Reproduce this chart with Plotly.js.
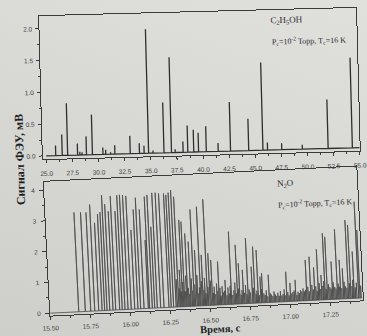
<!DOCTYPE html>
<html>
<head>
<meta charset="utf-8">
<script src="https://cdn.plot.ly/plotly-3.0.1.min.js"></script>
<style>
  html, body { margin:0; padding:0; width:367px; height:336px; overflow:hidden; }
  body { background: linear-gradient(200deg, #e0e0dd 0%, #d8d8d5 45%, #cecfcb 100%); position:relative; }
  .panel { position:absolute; left:0; top:0; width:367px; height:336px; }
  #top { transform: rotate(-1.5deg); transform-origin: 200px 85px; }
  #bottom { transform: rotate(-2.8deg); transform-origin: 205px 245px; }
</style>
</head>
<body>
<div id="top" class="panel"></div>
<div id="bottom" class="panel"></div>
<script>
// ---- Data: C2H5OH (upper panel), time in s, signal in mV ----
const topRange = [25.0, 55.0];
const topTimes = [25.91, 26.53, 27.05, 28.00, 28.22, 28.43, 28.85, 29.42, 30.43, 30.69,
                  31.16, 31.57, 33.04, 33.92, 34.37, 34.80, 35.22, 36.27, 36.99, 37.34,
                  38.10, 38.55, 39.12, 39.58, 40.32, 41.46, 42.64, 44.38, 45.74, 46.18,
                  47.54, 49.51, 51.98, 54.30];
const topSignal = [0.16, 0.33, 0.82, 0.18, 0.05, 0.04, 0.29, 0.63, 0.11, 0.07,
                   0.03, 0.14, 0.28, 0.16, 0.12, 1.95, 0.04, 0.79, 1.50, 0.05,
                   0.17, 0.42, 0.35, 0.30, 0.40, 0.13, 0.77, 0.50, 1.38, 0.12,
                   0.10, 0.07, 0.77, 1.42];
const topTickVals = [25.0, 27.5, 30.0, 32.5, 35.0, 37.5, 40.0, 42.5, 45.0, 47.5, 50.0, 52.5, 55.0];

// ---- Data: N2O (lower panel) ----
const bottomRange = [15.5, 17.45];
const n2oTimes = [15.679, 15.720, 15.754, 15.779, 15.804, 15.825, 15.841, 15.856, 15.873, 15.893,
                  15.910, 15.935, 15.951, 15.968, 15.987, 16.007, 16.029, 16.049, 16.066, 16.087,
                  16.114, 16.122, 16.139, 16.154, 16.170, 16.191, 16.212, 16.243, 16.257, 16.272,
                  16.288, 16.305, 16.330, 16.343, 16.363, 16.382, 16.403, 16.419, 16.444, 16.459,
                  16.486, 16.501, 16.517, 16.559, 16.600, 16.636, 16.674, 16.688, 16.711, 16.740,
                  16.767, 16.782, 16.803, 16.819, 16.830, 16.871, 16.981, 17.037, 17.106, 17.131,
                  17.156, 17.179, 17.200, 17.221, 17.235, 17.267, 17.298, 17.318, 17.335, 17.366,
                  17.381, 17.402, 17.429, 17.437];
const n2oSignal = [3.23, 3.22, 3.21, 3.46, 2.86, 3.14, 3.20, 3.75, 3.45, 3.21,
                   3.70, 3.21, 3.72, 3.73, 3.71, 3.68, 2.57, 3.23, 3.61, 3.22,
                   2.22, 3.63, 3.68, 2.64, 3.74, 3.74, 3.71, 3.70, 3.65, 3.72,
                   3.80, 3.58, 2.82, 2.76, 2.37, 2.10, 3.14, 1.82, 3.22, 1.65,
                   3.45, 1.69, 1.47, 1.41, 0.80, 2.36, 1.92, 1.32, 1.10, 2.12,
                   1.19, 1.84, 1.72, 0.85, 0.96, 0.90, 0.97, 0.69, 1.32, 1.42,
                   1.07, 1.65, 0.81, 2.16, 2.04, 1.23, 2.27, 1.27, 0.99, 2.55,
                   2.39, 1.52, 3.13, 2.21];
// dense low-level lines (estimated)
const n2oSmallTimes = [16.296, 16.312, 16.318, 16.324, 16.336, 16.350, 16.356, 16.370, 16.376, 16.390,
                       16.396, 16.410, 16.426, 16.432, 16.438, 16.452, 16.466, 16.472, 16.478, 16.492,
                       16.508, 16.524, 16.530, 16.538, 16.546, 16.552, 16.566, 16.572, 16.580, 16.588,
                       16.594, 16.608, 16.616, 16.624, 16.630, 16.644, 16.652, 16.660, 16.667, 16.681,
                       16.696, 16.703, 16.718, 16.726, 16.733, 16.748, 16.756, 16.774, 16.790, 16.796,
                       16.810, 16.824, 16.838, 16.846, 16.854, 16.862, 16.878, 16.886, 16.894, 16.902,
                       16.910, 16.918, 16.926, 16.934, 16.942, 16.950, 16.958, 16.966, 16.974, 16.988,
                       16.996, 17.004, 17.012, 17.020, 17.028, 17.044, 17.052, 17.060, 17.068, 17.076,
                       17.084, 17.092, 17.099, 17.114, 17.122, 17.140, 17.148, 17.164, 17.172, 17.186,
                       17.194, 17.208, 17.214, 17.228, 17.244, 17.252, 17.260, 17.274, 17.282, 17.290,
                       17.305, 17.312, 17.326, 17.342, 17.350, 17.358, 17.374, 17.390, 17.396, 17.410,
                       17.418, 17.444];
const n2oSmallSignal = [0.90, 0.60, 1.20, 0.50, 0.80, 0.50, 1.00, 0.60, 0.40, 0.90,
                        0.50, 0.70, 1.00, 0.40, 0.60, 0.80, 0.50, 0.90, 0.40, 0.60,
                        0.80, 0.40, 0.60, 0.35, 0.70, 0.45, 0.55, 0.30, 0.60, 0.40,
                        0.45, 0.30, 0.55, 0.35, 0.60, 0.30, 0.45, 0.70, 0.35, 0.50,
                        0.30, 0.45, 0.35, 0.60, 0.30, 0.45, 0.35, 0.50, 0.30, 0.40,
                        0.25, 0.45, 0.30, 0.25, 0.40, 0.20, 0.30, 0.25, 0.20, 0.35,
                        0.25, 0.20, 0.30, 0.20, 0.35, 0.20, 0.25, 0.40, 0.20, 0.30,
                        0.20, 0.60, 0.25, 0.30, 0.35, 0.20, 0.30, 0.25, 0.35, 0.30,
                        0.40, 0.30, 0.35, 0.45, 0.30, 0.50, 0.35, 0.45, 0.30, 0.55,
                        0.35, 0.45, 0.60, 0.35, 0.50, 0.40, 0.35, 0.55, 0.40, 0.35,
                        0.50, 0.40, 0.35, 0.55, 0.40, 0.35, 0.50, 0.40, 0.60, 0.35,
                        0.50, 0.40];
const bottomTickVals = [15.50, 15.75, 16.00, 16.25, 16.50, 16.75, 17.00, 17.25];

// Build a stick spectrum line: baseline with vertical lines at each peak
function stickSpectrum(range, times, values) {
  const pts = times.map((t, i) => [t, values[i]]).sort((a, b) => a[0] - b[0]);
  const x = [range[0]], y = [0];
  pts.forEach(([t, v]) => { x.push(t, t, t); y.push(0, v, 0); });
  x.push(range[1]); y.push(0);
  return {x, y};
}

const tickFont = {family: 'Liberation Sans Narrow, Liberation Sans, Arial, sans-serif', size: 6.5, color: '#3c3c3c'};
const serif = 'Liberation Serif, DejaVu Serif, Times New Roman, serif';
const axisBase = {
  showline: true, mirror: true, linecolor: '#3a3a3a', linewidth: 1,
  ticks: 'outside', ticklen: 3, tickwidth: 1, tickcolor: '#3a3a3a',
  showgrid: false, zeroline: false, tickfont: tickFont
};
const cfg = {staticPlot: true, displayModeBar: false};
const note = (x, y, text, font, extra) => Object.assign({
  xref: 'paper', yref: 'paper', x: x, y: y, xanchor: 'center', yanchor: 'middle',
  showarrow: false, text: text, font: font
}, extra || {});

// ---- Upper panel ----
const s1 = stickSpectrum(topRange, topTimes, topSignal);
Plotly.newPlot('top', [{
  x: s1.x, y: s1.y, type: 'scatter', mode: 'lines',
  line: {color: '#2e2e2e', width: 1.3}, hoverinfo: 'skip'
}], {
  width: 367, height: 336,
  margin: {l: 41, r: 9, t: 12, b: 181},
  paper_bgcolor: 'rgba(0,0,0,0)', plot_bgcolor: 'rgba(0,0,0,0)',
  showlegend: false,
  xaxis: Object.assign({}, axisBase, {
    range: [24.67, 55.0], tickvals: topTickVals, tickformat: '.1f',
    ticklabelstandoff: 5,
    minor: {ticks: 'outside', ticklen: 2, dtick: 1.25, tick0: 25, tickcolor: '#3a3a3a'}
  }),
  yaxis: Object.assign({}, axisBase, {
    range: [-0.05, 2.2], tick0: 0, dtick: 0.5, tickformat: '.1f',
    ticklabelstandoff: 2,
    minor: {ticks: 'outside', ticklen: 2, dtick: 0.25, tick0: 0, tickcolor: '#3a3a3a'}
  }),
  annotations: [
    note(0.779, 0.924, 'C<sub>2</sub>H<sub>5</sub>OH', {family: serif, size: 9, color: '#2a2a2a'}),
    note(0.849, 0.783, 'P<sub>c</sub>=10<sup>-2</sup> Торр, T<sub>c</sub>=16 K', {family: serif, size: 8, color: '#2a2a2a'}),
    note(-0.072, -0.002, '<b>Сигнал ФЭУ, мВ</b>', {family: serif, size: 12, color: '#1e1e1e'}, {textangle: -90})
  ]
}, cfg);

// ---- Lower panel ----
const s2 = stickSpectrum(bottomRange, n2oTimes.concat(n2oSmallTimes), n2oSignal.concat(n2oSmallSignal));
Plotly.newPlot('bottom', [{
  x: s2.x, y: s2.y, type: 'scatter', mode: 'lines',
  line: {color: '#4c4c4c', width: 0.8}, hoverinfo: 'skip'
}], {
  width: 367, height: 336,
  margin: {l: 47, r: 7, t: 174, b: 28},
  paper_bgcolor: 'rgba(0,0,0,0)', plot_bgcolor: 'rgba(0,0,0,0)',
  showlegend: false,
  xaxis: Object.assign({}, axisBase, {
    range: [15.5, 17.454], tickvals: bottomTickVals, tickformat: '.2f',
    ticklabelstandoff: 3,
    minor: {ticks: 'outside', ticklen: 2, dtick: 0.125, tick0: 15.5, tickcolor: '#3a3a3a'}
  }),
  yaxis: Object.assign({}, axisBase, {
    range: [-0.08, 4.27], tick0: 0, dtick: 1, tickformat: 'd',
    ticklabelstandoff: 3, ticklen: 4,
    minor: {ticks: 'outside', ticklen: 2, dtick: 0.5, tick0: 0, tickcolor: '#3a3a3a'}
  }),
  annotations: [
    note(0.773, 0.896, 'N<sub>2</sub>O', {family: serif, size: 9, color: '#2a2a2a'}),
    note(0.863, 0.743, 'P<sub>c</sub>=10<sup>-2</sup> Торр, T<sub>c</sub>=16 K', {family: serif, size: 8, color: '#2a2a2a'}),
    note(0.5425, -0.160, '<b>Время, с</b>', {family: serif, size: 10.5, color: '#1e1e1e'})
  ]
}, cfg);
</script>
</body>
</html>
